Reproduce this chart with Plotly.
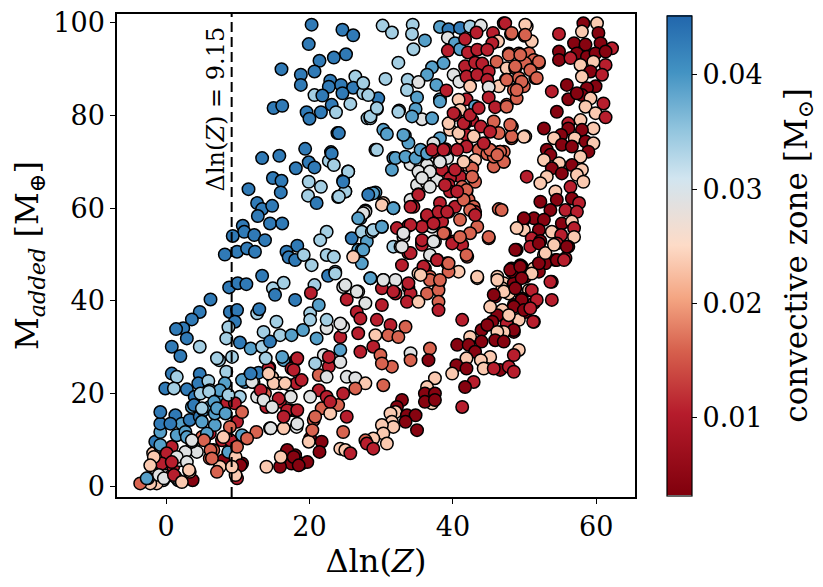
import plotly.graph_objects as go

# colour levels (convective zone mass, M_sun)
levels = {"D": 0.043, "M": 0.039, "L": 0.034, "G": 0.029,
          "P": 0.0235, "S": 0.016, "R": 0.0105, "K": 0.004}

# upper-left blue cloud
dlnz_a = [20.3, 24.6, 26.1, 19.9, 25.1, 23.4, 21.4, 16.1, 20.7, 18.8,
          26.4, 22.9, 18.8, 24.4, 26.1, 22.7, 20.7, 21.8, 24.6, 27.5,
          25.7, 23.1, 15.0, 16.2, 19.6, 21.6, 23.7, 20.0, 28.1, 23.9,
          19.4, 23.0, 13.4, 15.8, 19.9, 20.7, 22.7, 18.1, 25.4, 14.9,
          16.1, 19.9, 24.7, 21.6, 16.0, 11.5, 19.8, 25.0, 24.0, 28.4,
          21.0, 12.7, 13.4, 14.8, 12.8, 27.8, 27.1, 14.5, 16.2, 10.7,
          10.9, 9.3, 12.3, 13.8, 22.4, 21.5, 18.3, 25.9, 27.3, 8.2,
          9.9, 11.3, 12.4, 16.8, 26.8, 28.0]
madd_a = [99.6, 98.5, 97.3, 95.4, 93.2, 92.5, 91.8, 90.0, 89.5, 88.8,
          88.4, 87.5, 86.6, 86.6, 86.0, 86.2, 84.4, 84.3, 84.8, 84.8,
          82.5, 82.3, 81.6, 82.1, 80.7, 80.7, 80.7, 79.3, 79.4, 76.2,
          72.8, 72.1, 70.8, 71.3, 69.9, 68.8, 70.2, 68.6, 67.9, 66.5,
          65.9, 65.7, 65.9, 64.6, 63.4, 64.1, 62.7, 63.6, 62.4, 63.0,
          61.1, 61.1, 59.8, 60.5, 58.3, 59.5, 57.8, 56.7, 56.7, 56.2,
          54.9, 54.0, 54.2, 53.1, 54.9, 53.1, 51.9, 53.5, 54.9, 50.0,
          50.6, 51.3, 50.6, 50.6, 51.0, 52.8]
cz_a = ("DDDDDDDDDD" "LDDDDDLDDL" "LDDDDDLDLD" "DDDDDDLDLD" "DLDLDDLLLL"
        "DDDDDGMDDD" "DDDDLLDDLD" "DDDDMM")

# upper-middle light blue / grey cloud
dlnz_b = [30.2, 31.5, 34.4, 34.3, 36.1, 34.5, 38.2, 39.4, 39.3, 41.0,
          42.4, 43.9, 40.3, 41.0, 32.4, 30.6, 37.1, 36.4, 38.7, 40.1,
          40.9, 33.7, 35.2, 33.6, 37.7, 35.0, 38.2, 39.1, 29.6, 28.2,
          27.5, 29.4, 28.5, 32.5, 34.8, 35.7, 37.1, 30.3, 30.8, 33.3,
          33.8, 29.2, 31.7, 31.5, 34.1, 38.2, 36.4, 35.4, 36.6, 35.0,
          36.4, 37.8, 38.2, 39.2, 29.2, 28.5, 30.3, 31.7, 27.8, 30.1,
          28.7, 34.1, 35.2, 34.5, 36.4, 37.1, 35.7, 33.8, 32.2, 33.1,
          37.5, 35.7, 31.7]
madd_b = [99.4, 97.9, 99.6, 97.6, 96.2, 94.3, 99.1, 98.6, 96.8, 98.9,
          99.2, 99.4, 95.6, 94.3, 91.4, 87.9, 90.4, 88.8, 91.3, 88.8,
          87.3, 87.7, 87.2, 85.5, 86.6, 83.9, 83.5, 85.4, 83.7, 84.4,
          87.0, 81.4, 79.4, 81.1, 81.4, 79.2, 79.4, 76.9, 76.0, 75.7,
          74.1, 72.6, 70.8, 68.3, 69.5, 75.1, 71.7, 67.4, 67.9, 65.0,
          65.4, 66.1, 70.4, 70.8, 63.4, 63.1, 61.1, 60.0, 59.2, 56.0,
          54.9, 61.8, 63.0, 60.3, 58.2, 56.0, 56.0, 56.2, 55.7, 53.8,
          52.8, 52.6, 51.7]
cz_b = ("LLLLMLMDGD" "LGMMLLMMMG" "GLGLMMMRDL" "LLLLMGMMMM" "MLMMGMMGGG"
        "GGGGMDPMGM" "LGRRRGRRRG" "GRL")

# upper red / salmon cloud
dlnz_c = [39.3, 41.7, 43.3, 45.6, 47.1, 50.3, 48.1, 50.0, 51.0, 46.3,
          45.5, 42.1, 43.4, 44.8, 47.8, 49.2, 50.6, 51.3, 50.1, 52.0,
          46.1, 41.7, 43.1, 44.1, 41.9, 43.4, 45.0, 44.8, 47.5, 48.7,
          47.4, 49.2, 51.5, 49.9, 48.5, 46.4, 42.4, 45.0, 41.9, 45.0,
          45.9, 47.5, 48.9, 40.8, 41.0, 40.3, 43.1, 42.7, 41.7, 43.9,
          45.5, 45.7, 46.4, 48.2, 50.1, 48.2, 41.2, 39.6, 39.4, 41.9,
          42.9, 44.4, 43.6, 44.8, 45.9, 46.6, 47.1, 45.7, 43.1, 42.0,
          42.7, 37.3, 39.0, 38.5, 40.6, 41.0, 39.6, 41.3, 43.1, 39.4,
          39.6, 41.9, 42.2, 42.9, 43.1, 39.4, 38.2, 38.5, 40.3, 41.0,
          43.4, 42.4, 40.1, 38.9, 41.3, 45.0, 46.4]
madd_c = [94.0, 96.5, 97.9, 97.8, 99.9, 99.2, 97.6, 97.2, 96.0, 96.0,
          95.6, 93.6, 94.2, 94.2, 93.4, 93.4, 93.4, 92.0, 91.3, 91.3,
          91.6, 90.6, 91.4, 91.2, 88.4, 88.8, 89.5, 87.7, 90.2, 90.2,
          87.7, 88.1, 88.1, 86.3, 85.5, 86.3, 86.3, 86.1, 83.5, 83.9,
          81.8, 82.3, 83.7, 83.4, 81.2, 80.1, 82.0, 79.0, 78.3, 77.6,
          76.9, 78.7, 76.2, 77.6, 75.5, 75.1, 75.1, 76.9, 78.3, 75.8,
          75.5, 73.7, 72.6, 71.7, 72.0, 72.2, 70.0, 69.0, 70.4, 69.3,
          68.6, 72.2, 72.7, 68.3, 68.3, 66.8, 66.5, 64.6, 65.7, 65.0,
          63.6, 63.6, 61.8, 60.3, 59.2, 59.2, 61.1, 57.1, 60.3, 57.5,
          56.0, 54.6, 52.8, 54.6, 52.1, 53.5, 59.8]
cz_c = ("RRRRRPSSPP" "RRRRSSSSSS" "SRRRRRRRPS" "SSSSSPPGRR" "RSSPPRMRRR"
        "RSSSPSPPPR" "PRSSSSSSPP" "SRRRRRRSSR" "RSSSRRRRRS" "SSRRRSS")

# right-hand dark red band
dlnz_d = [54.8, 54.8, 54.8, 58.2, 60.1, 58.0, 60.3, 56.9, 58.5, 60.6,
          62.2, 57.3, 58.7, 59.9, 61.3, 56.4, 57.8, 59.6, 61.3, 59.2,
          60.8, 58.0, 55.9, 59.9, 58.7, 58.0, 56.1, 57.3, 53.8, 59.2,
          61.0, 58.5, 54.5, 59.9, 61.3, 57.8, 56.1, 59.6, 56.1, 58.0,
          52.7, 55.1, 57.0, 58.5, 59.6, 54.1, 55.2, 56.6, 58.9, 53.1,
          53.6, 57.8, 52.7, 54.8, 56.6, 58.0, 53.8, 55.2, 50.3, 53.1,
          57.3, 58.2, 52.2, 56.4, 54.3, 56.6, 54.5, 52.2, 57.6, 53.6,
          55.7, 57.3, 51.3, 49.9, 52.7, 55.2, 56.6, 56.9, 49.9, 52.0,
          53.8, 55.1, 56.9, 51.0, 52.2, 54.5, 56.1, 48.9, 52.7, 55.7,
          54.3, 49.6, 48.2, 51.3, 52.9, 52.0, 50.1, 53.8, 48.7, 47.1,
          50.6, 53.8, 49.6, 48.5, 51.3, 47.3, 50.1, 49.2, 51.3, 47.5,
          48.5, 46.8]
madd_d = [97.6, 93.8, 92.0, 99.9, 99.9, 98.1, 97.8, 95.6, 95.3, 95.6,
          94.5, 93.4, 92.7, 93.4, 93.8, 92.4, 90.9, 91.6, 90.9, 89.5,
          88.8, 88.4, 86.6, 86.3, 85.9, 84.4, 83.5, 84.8, 85.2, 83.7,
          82.6, 81.9, 80.8, 80.5, 79.6, 79.0, 78.3, 77.2, 77.2, 76.9,
          77.2, 75.8, 75.1, 74.4, 74.0, 75.1, 73.7, 73.3, 72.2, 72.6,
          71.5, 71.1, 70.4, 69.7, 69.3, 68.3, 68.6, 67.5, 66.8, 66.8,
          67.2, 65.7, 65.4, 64.6, 63.6, 62.1, 61.8, 61.4, 61.1, 59.6,
          59.6, 59.2, 57.8, 57.5, 57.5, 56.7, 57.1, 55.7, 55.3, 55.3,
          54.9, 54.2, 53.8, 53.5, 52.9, 52.4, 51.7, 51.0, 49.9, 49.2,
          48.8, 47.4, 47.0, 47.0, 48.1, 46.3, 45.2, 44.1, 43.0, 43.8,
          42.3, 40.2, 40.5, 39.1, 39.5, 37.6, 37.6, 35.9, 35.5, 35.1,
          33.3, 33.3]
cz_d = ("RKKKPPKKKK" "RKKKKRPPRK" "RPKKKKKKRP" "RPKPRPRPKK" "KKPKPPKKKK"
        "KPPPKPKKRP" "PPPRPKKKRK" "RRKKKKPRPK" "PRPRKRKKPR" "KKKPKKKRKP"
        "PRKKRPKPRR" "KP")

# salmon points between the red cloud and the band
dlnz_e = [47.3, 50.1, 48.2, 50.1, 47.8, 49.4, 52.0, 48.7, 50.8, 51.7,
          47.5, 49.6, 48.9, 47.5, 48.2, 48.2, 47.1, 46.8]
madd_e = [99.9, 99.6, 97.8, 97.4, 93.1, 93.1, 91.6, 90.6, 89.8, 88.1,
          87.7, 87.3, 85.5, 81.9, 77.6, 75.5, 72.2, 59.6]
cz_e = "RPSSSSSSSSSSSSSSSS"

# lower-left cloud
dlnz_f = [17.1, 18.0, 19.2, 20.3, 22.4, 13.4, 8.8, 10.0, 11.2, 14.9,
          16.4, 15.2, 18.0, 20.7, 20.2, 22.6, 23.6, 24.7, 25.2, 6.2,
          4.7, 3.6, 2.4, 1.4, 2.9, 0.8, 2.0, 4.7, 8.9, 9.9,
          12.7, 13.0, 9.6, 8.7, 15.4, 13.6, 15.9, 17.5, 19.1, 21.0,
          22.4, 24.3, 24.7, 10.3, 11.8, 13.4, 14.5, 8.4, 7.4, 9.2,
          8.4, 8.2, 4.7, 4.5, 5.9, 0.8, 1.5, -0.1, 2.9, 4.0,
          6.1, 7.1, 10.3, 11.0, 12.2, 11.7, 12.9, 14.4, 14.8, 15.9,
          17.3, 18.2, 18.9, 16.4, 18.2, 17.5, 22.0, 22.7, 24.3, 21.3,
          21.3, 22.4, 21.7, 24.0, 22.9, 12.7, 14.0, 13.8, 15.9, 17.3,
          18.0, 18.2, 16.4, 14.5, 12.6, 20.6, 20.1, 21.7, 21.4, 19.9,
          24.3, 16.8, 18.0, 16.4, 18.9, 17.5, 15.9, 14.0, 8.5, 9.6,
          9.9, 10.6, 8.9, 8.7, 8.0, 10.6, 9.6, 9.9, 7.8, 6.6,
          6.1, 7.5, 6.1, 6.8, 5.4, 3.8, 4.3, 5.0, 3.7, 1.7,
          0.8, -0.4, -1.3, -2.2, -3.6, -2.5, -0.8, -0.1, 1.0, 1.3,
          2.0, 3.3, -0.4, -1.8, -0.8, 0.8, 0.8, 2.7, 3.6, -1.5,
          -0.8, -0.8, -0.8, 1.3, 2.2, 0.6, 1.5, 2.7, 3.3, 4.7,
          5.2, 3.6, 6.1, 6.8, 7.5, 10.6, 8.9, 24.7, 25.0, 25.2,
          20.1, 21.3, 20.1, 22.4, 24.3, 24.3, 25.2, 22.4, 22.7, 24.7,
          22.9, 20.1]
madd_f = [49.4, 48.8, 49.9, 47.7, 49.9, 45.4, 42.9, 43.8, 43.6, 42.7,
          43.9, 41.3, 40.2, 43.4, 41.7, 45.4, 46.3, 43.0, 40.3, 40.3,
          37.6, 36.0, 34.1, 33.9, 31.9, 30.1, 28.1, 30.1, 37.6, 38.0,
          37.3, 38.2, 35.5, 34.3, 35.5, 33.3, 32.6, 32.6, 33.7, 31.9,
          34.1, 32.2, 34.4, 31.0, 29.7, 30.1, 31.2, 31.9, 27.2, 27.9,
          24.7, 22.2, 24.2, 22.2, 22.7, 24.3, 23.6, 21.1, 20.9, 19.3,
          20.7, 19.3, 19.3, 22.5, 22.5, 24.0, 24.5, 25.6, 23.5, 22.2,
          21.8, 22.2, 22.9, 27.2, 27.4, 25.4, 28.3, 25.8, 26.8, 24.0,
          20.7, 19.3, 16.8, 17.5, 15.7, 19.3, 17.1, 20.0, 18.2, 16.4,
          16.3, 12.8, 12.5, 12.5, 11.7, 14.3, 10.3, 9.6, 7.4, 9.6,
          8.1, 7.4, 6.7, 6.0, 4.9, 4.9, 4.2, 4.2, 17.9, 17.9,
          13.9, 11.0, 9.9, 7.1, 5.6, 4.9, 3.8, 1.7, 9.9, 7.8,
          6.0, 4.2, 11.4, 13.2, 10.6, 9.2, 7.4, 10.6, 1.3, 1.3,
          2.4, 1.3, 0.6, 0.6, 0.6, 1.7, 4.9, 4.9, 4.2, 2.0,
          5.6, 3.1, 6.3, 7.1, 8.5, 8.5, 5.6, 7.4, 9.6, 9.6,
          11.7, 13.5, 16.0, 15.3, 13.5, 13.5, 11.0, 11.7, 14.3, 15.0,
          16.4, 17.1, 17.1, 15.7, 20.7, 16.0, 12.8, 11.7, 7.8, 15.0,
          37.3, 39.1, 35.9, 35.9, 35.1, 29.4, 23.6, 23.6, 27.9, 20.0,
          18.2, 19.3]
cz_f = ("DDLLLDDDDL" "LDDLRDLGRD" "DDDDDDDLDD" "LDDLLLLMMM" "GRGDMLDLLL"
        "LMDDLDLDDD" "LMLMGMDRPP" "GRRMRRGRGS" "RRSSPGRSRR" "RGPGSSKKKP"
        "PKKPKKKPRR" "RMRMKKSRRS" "SPRMMGGSKM" "RGPPSMPGRG" "GPPPLRRGGD"
        "MDDDMDMMDD" "MMMMMSSSPR" "LMLLGMGGRR" "RG")

# lower-middle cloud and lower part of the red band
dlnz_g = [27.3, 27.3, 28.5, 32.7, 33.8, 32.9, 35.7, 36.8, 37.8, 39.2,
          42.0, 40.8, 39.4, 36.1, 35.2, 36.8, 38.0, 30.3, 32.0, 30.1,
          32.0, 33.8, 34.1, 36.4, 38.0, 33.6, 35.2, 38.0, 38.0, 26.8,
          27.8, 26.6, 30.1, 29.4, 31.3, 33.4, 27.1, 29.2, 31.0, 32.4,
          26.8, 28.9, 29.9, 27.1, 31.5, 30.1, 34.1, 34.1, 36.8, 36.6,
          26.4, 27.8, 26.4, 30.3, 25.7, 43.4, 46.2, 45.9, 46.9, 48.5,
          49.4, 48.2, 52.0, 53.6, 49.6, 48.5, 46.9, 46.2, 45.2, 49.9,
          47.8, 45.5, 44.0, 44.8, 48.5, 47.1, 46.2, 41.3, 42.4, 40.6,
          42.2, 44.0, 45.9, 47.1, 49.2, 48.5, 43.1, 45.2, 43.9, 41.9,
          40.5, 41.9, 39.9, 44.3, 46.6, 47.8, 48.5, 45.7, 42.9, 41.7,
          41.3, 37.5, 36.4, 36.1, 37.5, 37.1, 36.1, 37.5, 32.9, 32.2,
          32.0, 31.3, 31.5, 33.6, 34.8, 33.4, 35.0, 31.7, 30.1, 30.3,
          28.9, 27.8, 28.0, 30.8, 28.9, 50.8, 52.0, 52.9, 54.5, 55.9,
          55.5, 54.1, 51.0, 51.0, 51.7, 50.8, 51.2, 47.8]
madd_g = [51.0, 48.1, 44.9, 51.7, 50.3, 47.7, 52.1, 49.9, 48.8, 48.1,
          49.5, 46.3, 46.3, 47.0, 45.9, 45.2, 43.8, 44.5, 44.5, 42.7,
          41.6, 43.0, 41.6, 41.6, 42.3, 39.8, 39.8, 39.8, 38.0, 42.0,
          39.5, 37.6, 39.1, 35.9, 34.8, 34.4, 36.2, 32.6, 32.6, 32.2,
          33.0, 30.1, 28.3, 29.0, 25.8, 26.5, 28.7, 27.2, 29.7, 27.2,
          23.3, 22.2, 21.1, 21.8, 7.1, 44.9, 45.2, 40.9, 42.7, 43.8,
          47.7, 46.3, 48.1, 44.1, 40.2, 38.7, 38.0, 36.9, 38.7, 38.0,
          36.9, 35.5, 33.7, 34.8, 33.7, 33.3, 33.3, 35.9, 32.2, 30.5,
          30.5, 31.2, 31.5, 31.2, 29.4, 28.3, 29.0, 27.9, 27.2, 27.6,
          26.1, 25.4, 24.3, 25.4, 25.1, 25.8, 24.7, 25.4, 22.5, 21.4,
          17.1, 23.3, 21.4, 20.0, 20.0, 17.9, 18.2, 18.6, 18.6, 17.1,
          16.0, 15.7, 13.9, 15.3, 15.3, 13.9, 12.1, 12.8, 13.2, 11.4,
          10.3, 9.9, 9.2, 9.2, 8.1, 51.7, 52.4, 50.3, 48.8, 51.7,
          48.8, 52.1, 45.9, 42.3, 40.2, 38.4, 35.5, 41.6]
cz_g = ("MMMGRRRGRS" "SPSRPSSGGR" "RRRSSRPSRG" "GRRRRSRPSS" "RRSRSSGSSK"
        "GPSSRPPKPK" "KKKRKKPKPK" "PKKKKPPRPK" "KKKKPRKPPP" "KKPPKRRRRK"
        "RPPKKPKKKK" "PPPKKKKPPP" "PSRPRRKPKK" "RPPRRRRP")

# extra points in the crowded bottom-left corner
dlnz_h = [1.1, 4.8, 6.0, 8.7, 3.9, 5.0, 6.7, 7.1, 8.3, 2.9,
          5.0, 5.7, -0.8, 0.1, -0.6, 1.5, 2.9, -1.7, -2.2, -1.0,
          -2.7, -0.3, 1.1, 2.2, 3.2, 5.3, 6.2, 6.4, 7.1, 8.7,
          9.7, 10.4, 9.7, 9.2, 11.3, 9.0, 9.9, 8.0, 10.6, 12.0,
          13.2, 14.3, 15.0, 16.6, 17.4, 15.7, 13.6, 14.8, 16.9, 18.3,
          16.4, 18.3, 14.6, 16.2, 18.3, 17.8, 13.9, 14.3, 11.8, 16.9,
          17.8, 19.7, 18.5, 16.0, 20.4, 20.8, 20.8, 7.1, 3.6, 0.8]
madd_h = [21.1, 20.0, 20.4, 19.7, 17.5, 16.8, 18.2, 16.8, 15.7, 10.6,
          13.9, 11.4, 8.9, 7.1, 4.9, 6.3, 5.2, 6.3, 4.5, 2.4,
          1.7, 1.7, 2.4, 0.9, 3.5, 9.9, 7.8, 6.0, 3.1, 7.4,
          6.3, 4.5, 2.4, 4.2, 10.3, 9.9, 8.5, 10.6, 22.9, 22.5,
          20.7, 25.4, 22.2, 22.2, 19.3, 18.9, 18.6, 17.1, 16.4, 16.4,
          15.0, 13.5, 12.5, 27.9, 27.6, 25.1, 27.6, 24.3, 24.3, 7.8,
          6.3, 5.2, 4.5, 6.3, 12.1, 15.0, 26.5, 27.6, 9.9, 5.2]
cz_h = ("LLLLDLMMMM" "MMMRRGGPPG" "MGRPPSSSSM" "PKPPSRSPMG" "RRPPGRGGRR"
        "RGGMRRLPDK" "KKKPSSLLGR")

# extra points in the crowded middle of the plot
dlnz_i = [28.5, 29.4, 32.4, 34.3, 38.2, 24.1, 33.1, 29.4, 23.1, 32.0,
          33.4, 35.5, 36.4, 35.2, 36.8, 35.7, 36.8, 34.8, 35.5, 36.4,
          37.3, 37.1, 38.7, 38.2, 40.3, 41.5, 42.7, 41.9, 41.5, 42.4,
          43.1, 45.0, 41.9, 38.9, 40.6, 35.2, 34.1, 36.4, 38.0, 39.2,
          37.3, 34.1, 33.1, 35.7, 37.3, 38.7, 39.9, 41.0, 34.1, 32.9,
          35.9, 37.8, 39.4, 36.8, 35.5, 38.2, 33.8, 31.7, 30.3, 25.0,
          26.6, 28.5, 27.5, 23.6, 23.4, 26.1, 28.9, 30.1, 27.5, 26.8,
          30.1, 28.9, 28.2, 31.7, 25.0, 24.1, 25.4, 24.7, 23.4, 48.0,
          49.9, 46.6, 45.7, 47.1, 49.9, 48.9, 48.7, 48.0, 49.4, 49.6,
          46.2, 43.4, 47.1, 45.7, 48.7, 45.2, 41.9, 40.6, 40.8, 40.1,
          41.5, 42.4, 43.6, 45.2, 44.3, 46.2]
madd_i = [79.8, 81.6, 80.8, 79.8, 83.0, 76.2, 75.8, 72.6, 71.8, 70.8,
          71.1, 69.3, 69.3, 67.9, 67.9, 66.5, 64.6, 70.8, 72.6, 71.8,
          74.0, 72.6, 72.6, 70.0, 68.3, 70.0, 66.8, 63.9, 61.8, 59.6,
          58.5, 53.8, 49.9, 65.0, 63.6, 62.9, 60.3, 58.5, 59.2, 59.2,
          56.7, 56.4, 54.6, 53.1, 52.8, 54.6, 52.4, 53.8, 50.3, 51.7,
          47.4, 48.8, 48.1, 44.5, 45.6, 44.5, 43.8, 42.0, 44.5, 43.4,
          42.0, 44.9, 51.0, 45.9, 49.5, 49.5, 55.3, 56.0, 58.9, 57.8,
          60.7, 63.2, 62.9, 60.0, 63.6, 62.5, 67.9, 65.7, 69.3, 78.0,
          75.4, 72.2, 71.1, 70.0, 57.8, 55.7, 51.0, 46.7, 47.4, 44.9,
          44.5, 45.2, 42.0, 41.3, 42.7, 72.6, 73.3, 72.6, 76.2, 80.5,
          78.3, 80.1, 81.6, 76.5, 74.0, 71.5]
cz_i = ("LLLMMDMLDM" "MGGGGGGMMM" "GRRGRPSSSS" "RSSRRRRRRR" "RRGRGSRSRG"
        "RRSSPSRRGG" "GMMLLPLMGM" "PMDMLLLDLS" "PSSSKPKKKK" "PPPKKSRRPR"
        "RRRRRS")

dlnz_cut = 9.15
x_ticks = [0, 20, 40, 60]
y_ticks = [0, 20, 40, 60, 80, 100]
cbar_ticks = [0.01, 0.02, 0.03, 0.04]

dlnz = (dlnz_a + dlnz_b + dlnz_c + dlnz_d + dlnz_e + dlnz_f + dlnz_g
        + dlnz_h + dlnz_i)
madd = (madd_a + madd_b + madd_c + madd_d + madd_e + madd_f + madd_g
        + madd_h + madd_i)
codes = cz_a + cz_b + cz_c + cz_d + cz_e + cz_f + cz_g + cz_h + cz_i
assert len(dlnz) == len(madd) == len(codes)
conv = [levels[k] for k in codes]

rdbu = [[0.0, "rgb(128,0,12)"], [0.17, "rgb(182,28,44)"],
        [0.3, "rgb(214,96,77)"], [0.41, "rgb(244,165,130)"],
        [0.52, "rgb(253,219,199)"], [0.6, "rgb(228,224,222)"],
        [0.66, "rgb(209,229,240)"], [0.76, "rgb(146,197,222)"],
        [0.88, "rgb(67,147,195)"], [1.0, "rgb(33,102,172)"]]

serif = "DejaVu Serif"

fig = go.Figure()
fig.add_trace(go.Scatter(
    x=dlnz, y=madd, mode="markers",
    marker=dict(
        size=12.5, color=conv, colorscale=rdbu, cmin=0.0032, cmax=0.0452,
        line=dict(color="black", width=1.5),
        showscale=True,
        colorbar=dict(
            thickness=25, len=480, lenmode="pixels",
            x=1.061, xanchor="left", y=0.5, yanchor="middle",
            xpad=0, ypad=0, outlinewidth=1.2, outlinecolor="black",
            ticks="outside", ticklen=5, tickwidth=1.2, tickcolor="black",
            tickvals=cbar_ticks, ticktext=[f"{v:.2f}" for v in cbar_ticks],
            tickfont=dict(family=serif, size=27, color="black"),
        ),
    ),
    showlegend=False, hoverinfo="skip",
))

# threshold line
fig.add_shape(type="line", x0=dlnz_cut, x1=dlnz_cut, y0=0, y1=1,
              xref="x", yref="paper",
              line=dict(color="black", width=2, dash="10px,5px"))
fig.add_annotation(x=6.95, y=81.5, xref="x", yref="y",
                   text=f"Δln(<i>Z</i>) = {dlnz_cut}", textangle=-90,
                   showarrow=False, xanchor="center", yanchor="middle",
                   font=dict(family=serif, size=24, color="black"))
fig.add_annotation(x=1.315, y=0.5, xref="paper", yref="paper",
                   text="convective zone [M<sub>⊙</sub>]", textangle=-90,
                   showarrow=False, xanchor="center", yanchor="middle",
                   font=dict(family=serif, size=31, color="black"))

axis_style = dict(showgrid=False, zeroline=False, showline=True, mirror=True,
                  linecolor="black", linewidth=1.5, ticks="outside",
                  ticklen=5, tickwidth=1.2, tickcolor="black",
                  automargin=False, ticklabeloverflow="allow",
                  tickfont=dict(family=serif, size=27, color="black"))
fig.update_xaxes(range=[-6.84, 65.4], tickvals=x_ticks,
                 title=dict(text="Δln(<i>Z</i>)", standoff=8,
                            font=dict(family=serif, size=32, color="black")),
                 **axis_style)
fig.update_yaxes(range=[-2.33, 101.9], tickvals=y_ticks,
                 title=dict(text="M<sub><i>added</i></sub> [M<sub>⊕</sub>]",
                            standoff=8,
                            font=dict(family=serif, size=32, color="black")),
                 **axis_style)
# the page body adds an 8px margin, so the figure is 8px smaller each way
fig.update_layout(
    width=815, height=579,
    margin=dict(l=109, r=188, t=6, b=90, autoexpand=False),
    plot_bgcolor="white", paper_bgcolor="white",
)
fig.write_html("out.html")
